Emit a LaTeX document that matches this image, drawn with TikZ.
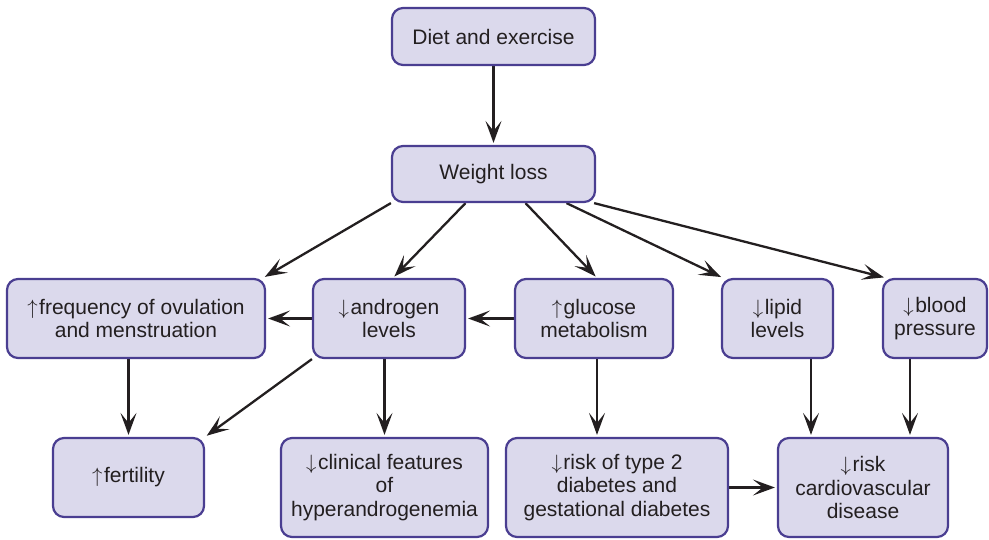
\documentclass[tikz,border=0pt]{standalone}
\usepackage{fontspec}
\setmainfont{Liberation Sans}
\usetikzlibrary{arrows.meta,calc,backgrounds}
\definecolor{boxfill}{RGB}{219,217,236}
\definecolor{boxdraw}{RGB}{74,62,145}
\definecolor{ink}{RGB}{35,31,32}
\newcommand{\upa}{$\uparrow$\hspace{1.5pt}}
\newcommand{\dna}{$\downarrow$\hspace{1.5pt}}
\begin{document}
\begin{tikzpicture}[x=1pt,y=-1pt,
  box/.style={draw=boxdraw, fill=boxfill, line width=2.2pt, rounded corners=11pt,
    align=center, font=\fontsize{21}{23.5}\selectfont, text=ink, inner sep=0pt},
  arr/.style={draw=ink, line width=2.3pt, -{Stealth[length=22pt,width=16pt,inset=10pt]}, shorten >=2pt}]
\useasboundingbox (0,0) rectangle (989,539);
\node[box, minimum width=203pt, minimum height=57pt] (diet) at (493.5,36.5) {Diet and exercise};
\node[box, minimum width=203pt, minimum height=56pt] (weight) at (493.5,174) {Weight loss};
\node[box, minimum width=258pt, minimum height=79pt] (freq) at (136,318.5) {\upa frequency of ovulation\\and menstruation};
\node[box, minimum width=152pt, minimum height=79pt] (andro) at (389,318.5) {\dna androgen\\levels};
\node[box, minimum width=158pt, minimum height=79pt] (gluc) at (594,318.5) {\upa glucose\\metabolism};
\node[box, minimum width=111pt, minimum height=79pt] (lipid) at (777.5,318.5) {\dna lipid\\levels};
\node[box, minimum width=104pt, minimum height=79pt] (blood) at (935,318.5) {\dna blood\\pressure};
\node[box, minimum width=151pt, minimum height=79pt] (fert) at (128.5,477.5) {\upa fertility};
\node[box, minimum width=207pt, minimum height=99pt] (clin) at (384.5,487.5) {\dna clinical features\\of\\hyperandrogenemia};
\node[box, minimum width=222pt, minimum height=99pt] (risk) at (617,487.5) {\dna risk of type 2\\diabetes and\\gestational diabetes};
\node[box, minimum width=170pt, minimum height=99pt] (cardio) at (863,487.5) {\dna risk\\cardiovascular\\disease};
\begin{scope}[on background layer]
\draw[arr] (diet) -- (weight);
\draw[arr] (weight.south west) -- ([xshift=-3pt]freq.north east);
\draw[arr] ([xshift=-28pt]weight.south) -- ([xshift=4pt]andro.north);
\draw[arr] ([xshift=32pt]weight.south) -- ([xshift=3pt]gluc.north);
\draw[arr] ([xshift=73pt]weight.south) -- ([xshift=2pt]lipid.north west);
\draw[arr] ([xshift=-2pt]weight.south east) -- ([xshift=4pt]blood.north west);
\draw[arr] (andro) -- (freq);
\draw[arr] (gluc) -- (andro);
\draw[arr] (freq.south -| fert.north) -- (fert.north);
\draw[arr] (andro.south west) -- (fert.north east);
\draw[arr] (andro.south -| clin.north) -- (clin.north);
\coordinate (g) at ([xshift=3pt]gluc.south);
\draw[arr] (g) -- (g |- risk.north);
\coordinate (l) at ([xshift=33.5pt]lipid.south);
\draw[arr] (l) -- (l |- cardio.north);
\coordinate (b) at ([xshift=-25pt]blood.south);
\draw[arr] (b) -- (b |- cardio.north);
\draw[arr] (risk) -- (cardio);
\end{scope}
\end{tikzpicture}
\end{document}
